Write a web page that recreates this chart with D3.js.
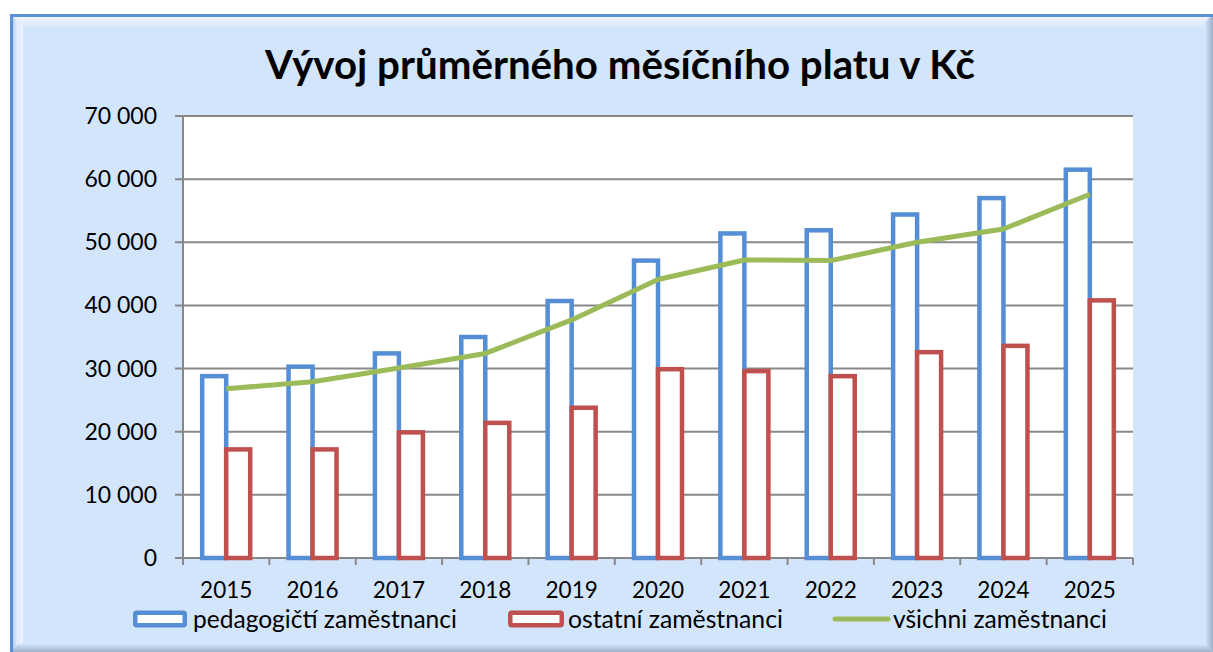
<!DOCTYPE html>
<html>
<head>
<meta charset="utf-8">
<script src="https://cdn.jsdelivr.net/npm/d3@7"></script>
<style>
  html, body { margin: 0; padding: 0; background: #fff; }
  svg { display: block; font-family: Lato, "Open Sans", sans-serif; }
</style>
</head>
<body>
<div id="chart"></div>
<script>
// data
const years = ['2015', '2016', '2017', '2018', '2019', '2020', '2021', '2022', '2023', '2024', '2025'];
const pedagogicti = [28800, 30300, 32400, 35000, 40700, 47100, 51400, 51900, 54400, 57000, 61500];
const ostatni = [17200, 17200, 19900, 21400, 23800, 29900, 29600, 28800, 32600, 33600, 40800];
const vsichni = [26800, 27900, 30100, 32400, 37700, 44100, 47200, 47100, 50000, 52100, 57600];
const yTicks = [0, 10000, 20000, 30000, 40000, 50000, 60000, 70000];
const seriesNames = ['pedagogičtí zaměstnanci', 'ostatní zaměstnanci', 'všichni zaměstnanci'];

const W = 1213, H = 652;
const colors = {
  bg: '#d3e5fb',
  border: '#5b8fd6',
  grid: '#888888',
  blue: '#558ed5',
  red: '#c0504d',
  green: '#9bbb59'
};
const plot = { left: 183, right: 1133, top: 116, bottom: 558 };

const svg = d3.select('#chart').append('svg').attr('width', W).attr('height', H);
const defs = svg.append('defs');

function grad(id, x2, y2, stops) {
  const g = defs.append('linearGradient').attr('id', id)
    .attr('x1', 0).attr('y1', 0).attr('x2', x2).attr('y2', y2);
  stops.forEach(s => g.append('stop').attr('offset', s[0]).attr('stop-color', s[1]));
}
grad('bevTop', 0, 1, [[0, '#f7faff'], [1, '#d9e8fb']]);
grad('bevLeft', 1, 0, [[0, '#93b6e4'], [0.5, '#dbe9fc'], [1, '#eef5fe']]);
grad('bevRight', 1, 0, [[0, colors.bg], [1, '#9eb0c9']]);
grad('bevBottom', 0, 1, [[0, colors.bg], [1, '#9eb0c9']]);

// frame
const fx0 = 10, fy0 = 14, fx1 = 1213, fy1 = 652, bev = 13;
svg.append('rect').attr('x', fx0).attr('y', fy0).attr('width', fx1 - fx0).attr('height', fy1 - fy0).attr('fill', colors.bg);
svg.append('polygon').attr('fill', 'url(#bevTop)')
  .attr('points', [[fx0, fy0], [fx1, fy0], [fx1 - 10, fy0 + bev], [fx0 + bev, fy0 + bev]].join(' '));
svg.append('polygon').attr('fill', 'url(#bevLeft)')
  .attr('points', [[fx0, fy0], [fx0 + bev, fy0 + bev], [fx0 + bev, fy1 - 10], [fx0, fy1]].join(' '));
svg.append('polygon').attr('fill', 'url(#bevRight)')
  .attr('points', [[fx1, fy0], [fx1, fy1], [fx1 - 8, fy1 - 8], [fx1 - 8, fy0 + 8]].join(' '));
svg.append('polygon').attr('fill', 'url(#bevBottom)')
  .attr('points', [[fx0, fy1], [fx1, fy1], [fx1 - 8, fy1 - 8], [fx0 + 8, fy1 - 8]].join(' '));
svg.append('path').attr('d', `M${fx0 + 1.5},${fy1}V${fy0 + 1.5}H${fx1}`)
  .attr('fill', 'none').attr('stroke', colors.border).attr('stroke-width', 3);

// title
const title = svg.append('text').attr('x', 620).attr('y', 79).attr('text-anchor', 'middle')
  .attr('font-weight', 'bold').attr('font-size', 36).attr('fill', '#000')
  .text('Vývoj průměrného měsíčního platu v Kč');
const tw = title.node().getComputedTextLength();
title.attr('font-size', 36 * 710 / tw);

// scales
const x = d3.scaleBand().domain(years).range([plot.left, plot.right]);
const y = d3.scaleLinear().domain([0, 70000]).range([plot.bottom, plot.top]);
const barW = 24;
const fmt = v => d3.format(',')(v).replace(/,/g, ' ');

svg.append('rect').attr('x', plot.left).attr('y', plot.top)
  .attr('width', plot.right - plot.left).attr('height', plot.bottom - plot.top).attr('fill', '#fff');

// gridlines + y axis
svg.append('g').selectAll('line').data(yTicks).join('line')
  .attr('x1', plot.left - 8).attr('x2', plot.right)
  .attr('y1', d => y(d)).attr('y2', d => y(d))
  .attr('stroke', colors.grid).attr('stroke-width', 2);
svg.append('line').attr('x1', plot.left).attr('x2', plot.left).attr('y1', plot.top).attr('y2', plot.bottom)
  .attr('stroke', colors.grid).attr('stroke-width', 2);
svg.append('g').selectAll('text').data(yTicks).join('text')
  .attr('x', 157).attr('y', d => y(d) + 8).attr('text-anchor', 'end')
  .attr('font-size', 23).attr('fill', '#000').text(fmt);

// x axis ticks at band edges
const edges = years.map(d => x(d)).concat([plot.right]);
svg.append('g').selectAll('line').data(edges).join('line')
  .attr('x1', d => d).attr('x2', d => d).attr('y1', plot.bottom).attr('y2', plot.bottom + 7)
  .attr('stroke', colors.grid).attr('stroke-width', 2);
svg.append('g').selectAll('text').data(years).join('text')
  .attr('x', d => x(d) + x.bandwidth() / 2).attr('y', 598).attr('text-anchor', 'middle')
  .attr('font-size', 22.5).attr('fill', '#000').text(d => d);

// bars
const cx = d => x(d) + x.bandwidth() / 2;
svg.append('g').selectAll('rect').data(years).join('rect')
  .attr('x', d => cx(d) - barW).attr('width', barW)
  .attr('y', (d, i) => y(pedagogicti[i])).attr('height', (d, i) => y(0) - y(pedagogicti[i]))
  .attr('fill', '#fff').attr('stroke', colors.blue).attr('stroke-width', 4.5);
svg.append('g').selectAll('rect').data(years).join('rect')
  .attr('x', d => cx(d)).attr('width', barW)
  .attr('y', (d, i) => y(ostatni[i])).attr('height', (d, i) => y(0) - y(ostatni[i]))
  .attr('fill', '#fff').attr('stroke', colors.red).attr('stroke-width', 4.5);

// line
const line = d3.line().x((d, i) => cx(years[i])).y(d => y(d));
svg.append('path').datum(vsichni).attr('d', line)
  .attr('fill', 'none').attr('stroke', colors.green).attr('stroke-width', 5)
  .attr('stroke-linejoin', 'round');

// legend
const lg = svg.append('g');
const legendText = (x0, x1, label) => {
  const t = lg.append('text').attr('x', x0).attr('y', 628).attr('font-size', 22).text(label);
  t.attr('font-size', 22 * (x1 - x0) / t.node().getComputedTextLength());
};
lg.append('rect').attr('x', 135.25).attr('y', 612.75).attr('width', 49.5).attr('height', 12.5)
  .attr('fill', '#fff').attr('stroke', colors.blue).attr('stroke-width', 4.5).attr('rx', 1.5);
legendText(193, 457, seriesNames[0]);
lg.append('rect').attr('x', 510.25).attr('y', 612.75).attr('width', 51.5).attr('height', 12.5)
  .attr('fill', '#fff').attr('stroke', colors.red).attr('stroke-width', 4.5).attr('rx', 1.5);
legendText(568, 783, seriesNames[1]);
lg.append('line').attr('x1', 835).attr('x2', 888).attr('y1', 619).attr('y2', 619)
  .attr('stroke', colors.green).attr('stroke-width', 5).attr('stroke-linecap', 'round');
legendText(893, 1107, seriesNames[2]);
</script>
</body>
</html>
